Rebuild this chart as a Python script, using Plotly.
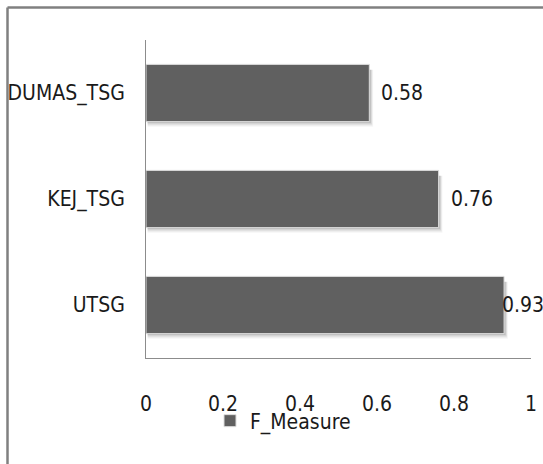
import plotly.graph_objects as go

# F-measure per method
methods = ["UTSG", "KEJ_TSG", "DUMAS_TSG"]
f_measure = [0.93, 0.76, 0.58]
x_ticks = [0, 0.2, 0.4, 0.6, 0.8, 1]
x_tick_text = ["0", "0.2", "0.4", "0.6", "0.8", "1"]
series_name = "F_Measure"

FONT = "DejaVu Sans Condensed, Liberation Sans Narrow, sans-serif"
FS = 21
BAR = "#606060"
BAR_WIDTH = 0.54

# plot area in pixels
W, H = 543, 464
ML, MR, MT, MB = 146, 12, 40, 106
PW, PH = W - ML - MR, H - MT - MB

fig = go.Figure()

# soft drop shadow under each bar, layered rectangles in data coordinates
shapes = []
for i, v in enumerate(f_measure):
    for k, op in enumerate([0.10, 0.08, 0.06, 0.04]):
        off = 0.012 * (k + 1)
        shapes.append(dict(
            type="rect", xref="x", yref="y", layer="below",
            x0=0.004, x1=v + 0.004 + 0.002 * k,
            y0=i - BAR_WIDTH / 2 - off, y1=i + BAR_WIDTH / 2 - 0.05,
            fillcolor="black", opacity=op, line=dict(width=0),
        ))

fig.add_trace(go.Bar(
    y=methods, x=f_measure, orientation="h", name=series_name,
    width=BAR_WIDTH,
    marker=dict(color=BAR, line=dict(color="#dcdcdc", width=1)),
    showlegend=True,
))

# value labels beside each bar (the longest bar's label sits tight against it)
shifts = [-4, 10, 10]
annotations = []
for i, (m, v) in enumerate(zip(methods, f_measure)):
    annotations.append(dict(
        x=v, y=m, xref="x", yref="y", text=f"{v:.2f}",
        showarrow=False, xanchor="left", yanchor="middle",
        xshift=shifts[i], font=dict(family=FONT, size=FS, color="#1a1a1a"),
    ))

# outer frame: top and left borders, positioned in page pixels
def px_x(x):
    return (x - ML) / PW

def px_y(y):
    return (H - MB - y) / PH

frame = dict(color="#808080", width=2.5)
shapes += [
    dict(type="line", xref="paper", yref="paper",
         x0=px_x(7.5), x1=px_x(W), y0=px_y(7.5), y1=px_y(7.5), line=frame),
    dict(type="line", xref="paper", yref="paper",
         x0=px_x(7.5), x1=px_x(7.5), y0=px_y(7.5), y1=px_y(H), line=frame),
]

fig.update_layout(
    width=W, height=H,
    margin=dict(l=ML, r=MR, t=MT, b=MB),
    paper_bgcolor="white", plot_bgcolor="white",
    font=dict(family=FONT, size=FS, color="#1a1a1a"),
    xaxis=dict(
        range=[0, 1], tickvals=x_ticks, ticktext=x_tick_text,
        showgrid=False, zeroline=False, showline=True, automargin=False,
        linecolor="#8c8c8c", linewidth=1, ticks="",
        ticklabelstandoff=27, tickfont=dict(size=FS),
    ),
    yaxis=dict(
        showgrid=False, zeroline=False, showline=True, automargin=False,
        linecolor="#8c8c8c", linewidth=1, ticks="",
        ticklabelstandoff=16, tickfont=dict(size=FS),
    ),
    legend=dict(
        orientation="h", x=px_x(210), y=px_y(421), xanchor="left", yanchor="middle",
        font=dict(size=FS), bgcolor="rgba(0,0,0,0)",
    ),
    shapes=shapes,
    annotations=annotations,
    bargap=0.46,
)

fig.write_html("out.html")
